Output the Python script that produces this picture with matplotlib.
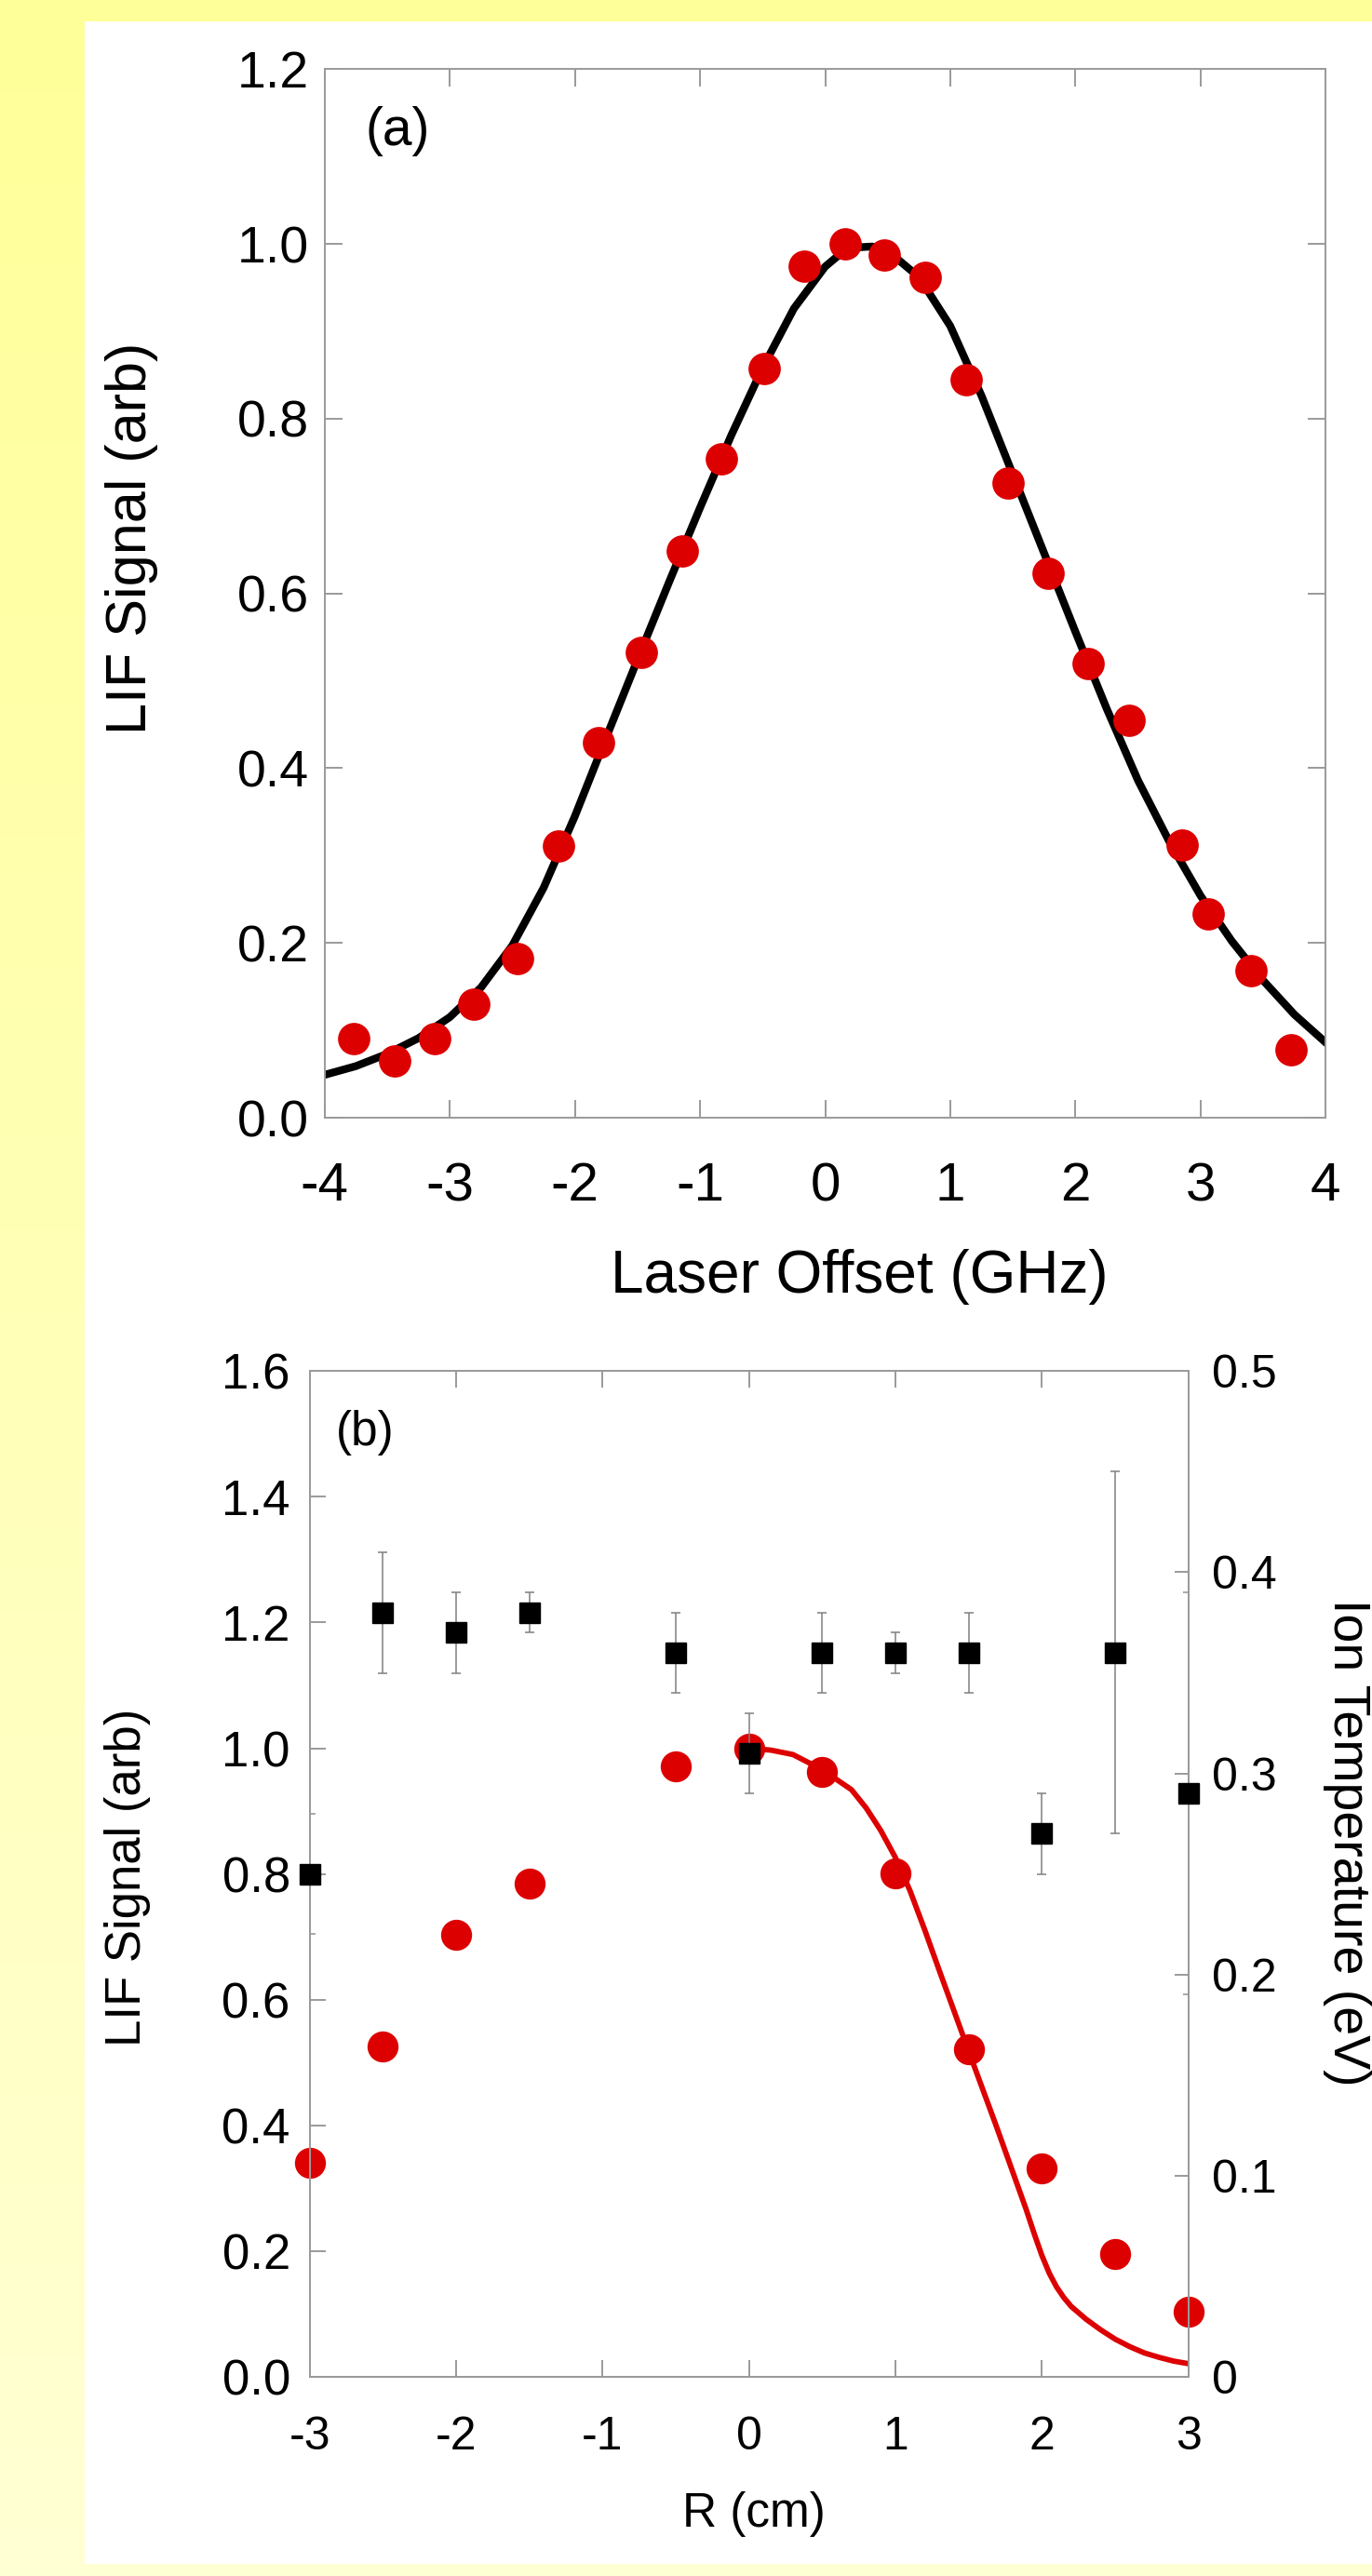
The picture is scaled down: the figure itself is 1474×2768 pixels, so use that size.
import matplotlib
matplotlib.use('Agg')
import matplotlib.pyplot as plt
import numpy as np
from matplotlib.patches import Rectangle
from matplotlib.colors import LinearSegmentedColormap

plt.rcParams['font.family'] = ['Liberation Sans', 'DejaVu Sans']
plt.rcParams['axes.unicode_minus'] = False

# ---------------- data: panel (a) ----------------
laser_offset = [-3.77, -3.44, -3.12, -2.81, -2.46, -2.13, -1.81, -1.47, -1.14, -0.83,
                -0.49, -0.17, 0.16, 0.47, 0.80, 1.13, 1.46, 1.78, 2.10, 2.43,
                2.85, 3.06, 3.40, 3.72]
lif_signal_a = [0.090, 0.065, 0.090, 0.130, 0.182, 0.311, 0.429, 0.532, 0.649, 0.754,
                0.857, 0.974, 1.000, 0.987, 0.962, 0.845, 0.726, 0.623, 0.520, 0.455,
                0.312, 0.233, 0.168, 0.078]
fit_a_x = [-4.0, -3.75, -3.5, -3.25, -3.0, -2.75, -2.5, -2.25, -2.0, -1.75, -1.5, -1.25,
           -1.0, -0.75, -0.5, -0.25, 0.0, 0.125, 0.25, 0.375, 0.5, 0.75, 1.0, 1.25, 1.5,
           1.75, 2.0, 2.25, 2.5, 2.75, 3.0, 3.25, 3.5, 3.75, 4.0]
fit_a_y = [0.049, 0.059, 0.073, 0.091, 0.115, 0.149, 0.197, 0.263, 0.345, 0.435, 0.524,
           0.612, 0.698, 0.781, 0.858, 0.926, 0.974, 0.989, 0.996, 0.997, 0.992, 0.962,
           0.906, 0.826, 0.736, 0.646, 0.556, 0.468, 0.386, 0.316, 0.254, 0.202, 0.157,
           0.118, 0.086]

# ---------------- data: panel (b) ----------------
radius = [-3.0, -2.5, -2.0, -1.5, -0.5, 0.0, 0.5, 1.0, 1.5, 2.0, 2.5, 3.0]
lif_signal_b = [0.341, 0.526, 0.703, 0.784, 0.971, 1.000, 0.962, 0.801, 0.521, 0.332, 0.196, 0.104]
ion_temp = [0.25, 0.38, 0.37, 0.38, 0.36, 0.31, 0.36, 0.36, 0.36, 0.27, 0.36, 0.29]
ion_temp_err = [0.0, 0.03, 0.02, 0.01, 0.02, 0.02, 0.02, 0.01, 0.02, 0.02, 0.09, 0.0]
fit_b_x = [0.0, 0.15, 0.3, 0.5, 0.7, 0.8, 0.9, 1.0, 1.1, 1.2, 1.3, 1.5, 1.69, 1.89,
           1.95, 2.0, 2.05, 2.1, 2.15, 2.2, 2.3, 2.4, 2.5, 2.6, 2.7, 2.8, 2.9, 3.0]
fit_b_y = [1.000, 0.997, 0.990, 0.966, 0.934, 0.905, 0.869, 0.826, 0.773, 0.711, 0.646,
           0.518, 0.398, 0.268, 0.226, 0.193, 0.165, 0.143, 0.126, 0.112, 0.092, 0.075,
           0.060, 0.048, 0.038, 0.031, 0.025, 0.021]

xticks_a = [-4, -3, -2, -1, 0, 1, 2, 3, 4]
yticks_a = [0.0, 0.2, 0.4, 0.6, 0.8, 1.0, 1.2]
xticks_b = [-3, -2, -1, 0, 1, 2, 3]
yticks_b = [0.0, 0.2, 0.4, 0.6, 0.8, 1.0, 1.2, 1.4, 1.6]
yticks_b2 = [0.0, 0.1, 0.2, 0.3, 0.4, 0.5]
yticks_b2_labels = ['0', '0.1', '0.2', '0.3', '0.4', '0.5']

W, H = 1474, 2768
fig = plt.figure(figsize=(W / 100, H / 100), dpi=100)

# background: yellow gradient with white panel
bg = fig.add_axes([0, 0, 1, 1], zorder=-10)
cmap = LinearSegmentedColormap.from_list('bg', ['#FFFF99', '#FFFFD4'])
bg.imshow(np.linspace(0, 1, 256).reshape(-1, 1), aspect='auto', cmap=cmap,
          extent=[0, 1, 0, 1], origin='upper')
bg.add_patch(Rectangle((91 / W, 1 - 2755 / H), 1 - 91 / W, (2755 - 23) / H,
                       transform=bg.transAxes, facecolor='white', edgecolor='none'))
bg.set_xlim(0, 1)
bg.set_ylim(0, 1)
bg.axis('off')

GRAY = '#9a9a9a'
RED = '#DD0000'


def style_spines(ax):
    for s in ax.spines.values():
        s.set_color(GRAY)
        s.set_linewidth(1.4)


def fx(px):
    return px / W


def fy(py):
    return 1 - py / H


# ---------------- panel (a) ----------------
ax1 = fig.add_axes([fx(348.7), fy(1201), fx(1424.3) - fx(348.7), fy(74.3) - fy(1201)])
ax1.patch.set_alpha(0)
ax1.plot(fit_a_x, fit_a_y, color='black', lw=6.0, zorder=2, solid_joinstyle='round')
ax1.plot(laser_offset, lif_signal_a, 'o', color=RED, ms=25, mec='none', zorder=3, clip_on=False)
ax1.set_xlim(-4, 4)
ax1.set_ylim(0, 1.2)
ax1.set_xticks(xticks_a)
ax1.set_xticklabels([f'{v:d}' for v in xticks_a])
ax1.set_yticks(yticks_a)
ax1.set_yticklabels([f'{v:.1f}' for v in yticks_a])
ax1.tick_params(axis='x', direction='in', top=True, bottom=True, length=14, width=1.4,
                color=GRAY, labelsize=42, pad=34)
ax1.tick_params(axis='y', direction='in', left=True, right=True, length=14, width=1.4,
                color=GRAY, labelsize=40, pad=12)
style_spines(ax1)
ax1.text(0.041, 0.941, '(a)', transform=ax1.transAxes, fontsize=41, ha='left', va='center')

fig.text(fx(923), fy(1389), 'Laser Offset (GHz)', fontsize=46, ha='center', va='baseline')
fig.text(fx(142), fy(578), 'LIF Signal (arb)', fontsize=44, ha='center', va='center',
         rotation=90)

# ---------------- panel (b) ----------------
ax2 = fig.add_axes([fx(332.7), fy(2554), fx(1276.7) - fx(332.7), fy(1473.3) - fy(2554)])
ax2.patch.set_alpha(0)
ax2.plot(radius, lif_signal_b, 'o', color=RED, ms=24, mec='none', zorder=2, clip_on=False)
ax2.plot(fit_b_x, fit_b_y, color=RED, lw=4.2, zorder=3, solid_joinstyle='round')
ax2.set_xlim(-3, 3)
ax2.set_ylim(0, 1.6)
ax2.set_xticks(xticks_b)
ax2.set_xticklabels([f'{v:d}' for v in xticks_b])
ax2.set_yticks(yticks_b)
ax2.set_yticklabels([f'{v:.1f}' for v in yticks_b])
ax2.set_yticks([0.705, 0.896], minor=True)
ax2.tick_params(axis='x', direction='in', top=True, bottom=True, length=13, width=1.4,
                color=GRAY, labelsize=36, pad=30)
ax2.tick_params(axis='y', direction='in', left=True, right=False, length=12, width=1.4,
                color=GRAY, labelsize=38, pad=15)
ax2.tick_params(axis='y', which='minor', direction='in', left=True, right=False,
                length=4, width=1.2, color=GRAY)
style_spines(ax2)
ax2.text(0.030, 0.939, '(b)', transform=ax2.transAxes, fontsize=37, ha='left', va='center')

ax3 = ax2.twinx()
ax3.errorbar(radius, ion_temp, yerr=ion_temp_err, fmt='s', color='black', ms=16.5,
             mec='black', ecolor='#808080', elinewidth=1.1, capsize=3.6, capthick=1.1,
             zorder=4, clip_on=False)
ax3.set_ylim(0, 0.5)
ax3.set_yticks(yticks_b2)
ax3.set_yticklabels(yticks_b2_labels)
ax3.set_yticks([0.19, 0.39], minor=True)
ax3.tick_params(axis='y', direction='in', right=True, length=11, width=1.4,
                color=GRAY, labelsize=36, pad=18)
ax3.tick_params(axis='y', which='minor', direction='in', right=True, length=4,
                width=1.2, color=GRAY)
style_spines(ax3)

fig.text(fx(810), fy(2715), 'R (cm)', fontsize=37, ha='center', va='baseline')
fig.text(fx(137), fy(2017), 'LIF Signal (arb)', fontsize=38, ha='center', va='center',
         rotation=90)
fig.text(fx(1447), fy(1980), 'Ion Temperature (eV)', fontsize=40, ha='center', va='center',
         rotation=270)

fig.savefig('out.png', dpi=100)
